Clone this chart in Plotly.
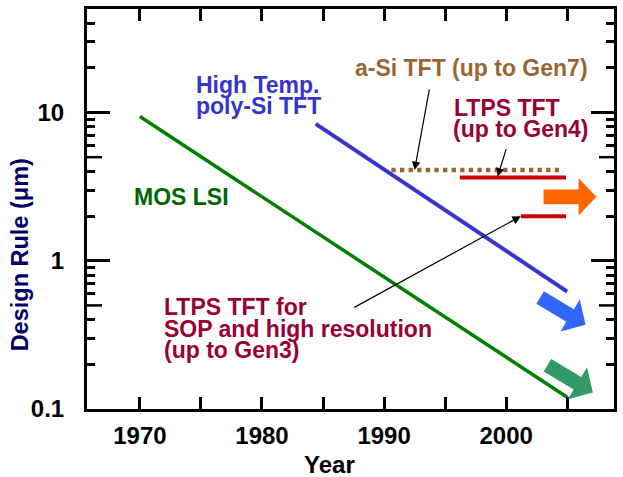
import numpy as np
import plotly.graph_objects as go

# ---------------- data ----------------
mos_years = [1970, 2005]
mos_rule = [9.4, 0.12]

htps_years = [1984.4, 2005]
htps_rule = [8.4, 0.62]

asi_years = [1990.6, 2004.7]
asi_rule = [4.1, 4.1]

ltps4_years = [1996.2, 2004.9]
ltps4_rule = [3.65, 3.65]

ltps3_years = [2001.2, 2004.9]
ltps3_rule = [2.0, 2.0]

x_tick_vals = [1970, 1975, 1980, 1985, 1990, 1995, 2000, 2005]
x_tick_text = ["1970", "", "1980", "", "1990", "", "2000", ""]
y_tick_vals = [0.1, 1, 10]
y_tick_text = ["0.1", "1", "10"]
y_minor_vals = [0.2, 0.3, 0.4, 0.6, 0.7, 0.8, 0.9,
                2, 3, 4, 6, 7, 8, 9, 20, 30, 40]
y_mid_vals = [0.5, 5]

# trend arrows (tip year, tip value, direction in degrees, colour)
arrow_tip_years = [2007.4, 2006.5, 2007.1]
arrow_tip_rules = [2.70, 0.370, 0.129]
arrow_angles = [0, -31, -31]
arrow_colors = ["#FF6600", "#3366FF", "#339966"]

# pointer arrows (head year, head value, tail offset px)
pointer_years = [1992.5, 1999.3, 2001.2]
pointer_rules = [4.1, 3.7, 2.0]
pointer_ax = [15, 9, -168]
pointer_ay = [-82, -29, 92]

# ---------------- layout geometry ----------------
W_FIG, H_FIG = 623, 477
L, T, W, H = 87, 9, 530, 400
FONT = "Liberation Sans, Arial, sans-serif"

def paper(px, py):
    return (px - L) / W, 1 - (py - T) / H

fig = go.Figure()

fig.add_trace(go.Scatter(x=mos_years, y=mos_rule, mode="lines",
                         line=dict(color="#008000", width=3.5)))
fig.add_trace(go.Scatter(x=htps_years, y=htps_rule, mode="lines",
                         line=dict(color="#3535CC", width=4)))
fig.add_trace(go.Scatter(x=asi_years, y=asi_rule, mode="lines",
                         line=dict(color="#996633", width=4.3, dash="4.3px,4.3px")))
fig.add_trace(go.Scatter(x=ltps4_years, y=ltps4_rule, mode="lines",
                         line=dict(color="#CC0000", width=4)))
fig.add_trace(go.Scatter(x=ltps3_years, y=ltps3_rule, mode="lines",
                         line=dict(color="#CC0000", width=4)))

# block arrows
template = np.array([(-53, -7.3), (-18, -7.3), (-18, -18.7), (0, 0),
                     (-18, 18.7), (-18, 7.3), (-53, 7.3)])
shapes = []
for yr, val, ang, col in zip(arrow_tip_years, arrow_tip_rules, arrow_angles, arrow_colors):
    t = np.radians(ang)
    rot = np.array([[np.cos(t), -np.sin(t)], [np.sin(t), np.cos(t)]])
    pts = template @ rot.T
    path = "M" + " L".join(f"{p[0]:.2f},{p[1]:.2f}" for p in pts) + " Z"
    shapes.append(dict(type="path", xref="x", yref="y", xsizemode="pixel",
                       ysizemode="pixel", xanchor=yr, yanchor=val, path=path,
                       fillcolor=col, line=dict(width=0), layer="above"))

# medium ticks at 0.5 and 5 on both sides
for v in y_mid_vals:
    shapes.append(dict(type="line", xref="paper", yref="y", xsizemode="pixel",
                       xanchor=0, x0=0, x1=15, y0=v, y1=v,
                       line=dict(color="black", width=2.5)))
    shapes.append(dict(type="line", xref="paper", yref="y", xsizemode="pixel",
                       xanchor=1, x0=-15, x1=0, y0=v, y1=v,
                       line=dict(color="black", width=2.5)))

annotations = []
for yr, val, ax, ay in zip(pointer_years, pointer_rules, pointer_ax, pointer_ay):
    annotations.append(dict(x=yr, y=np.log10(val), xref="x", yref="y", text="",
                            showarrow=True, ax=ax, ay=ay, arrowhead=2,
                            arrowsize=1.4, arrowwidth=1.2, arrowcolor="black",
                            standoff=0))

labels = [
    ("High Temp.", 196.7, 92.7, "#3535CC"),
    ("poly-Si TFT", 196.7, 114, "#3535CC"),
    ("MOS LSI", 135, 205, "#006600"),
    ("a-Si TFT (up to Gen7)", 356.7, 76, "#996633"),
    ("LTPS TFT", 456.7, 116, "#990033"),
    ("(up to Gen4)", 455.3, 137, "#990033"),
    ("LTPS TFT for", 165, 315, "#990033"),
    ("SOP and high resolution", 165, 337, "#990033"),
    ("(up to Gen3)", 165, 358, "#990033"),
]
FS = 23
for txt, px, base, col in labels:
    xp, yp = paper(px - 2.5, base - 0.3465 * FS)
    annotations.append(dict(x=xp, y=yp, xref="paper", yref="paper", text=txt,
                            showarrow=False, xanchor="left", yanchor="middle",
                            font=dict(family=FONT, size=FS, color=col, weight="bold")))

# axis titles
xp, yp = paper(331, 473.3 - 0.3465 * 24)
annotations.append(dict(x=xp, y=yp, xref="paper", yref="paper", text="Year",
                        showarrow=False, xanchor="center", yanchor="middle",
                        font=dict(family=FONT, size=24, color="black", weight="bold")))
xp, yp = paper(28.3 - 0.3465 * 24, 255)
annotations.append(dict(x=xp, y=yp, xref="paper", yref="paper",
                        text="Design Rule (\u03bcm)", textangle=-90,
                        showarrow=False, xanchor="center", yanchor="middle",
                        font=dict(family=FONT, size=23.5, color="#000066", weight="bold")))

tickfont = dict(family=FONT, size=24, color="black", weight="bold")
fig.update_layout(
    width=W_FIG, height=H_FIG,
    margin=dict(l=L, r=W_FIG - L - W, t=T, b=H_FIG - T - H),
    paper_bgcolor="white", plot_bgcolor="white",
    showlegend=False,
    xaxis=dict(range=[1965.67, 2008.83], tickvals=x_tick_vals, ticktext=x_tick_text,
               ticks="inside", ticklen=12, tickwidth=2.5, tickcolor="black",
               showline=True, linewidth=3, linecolor="black", mirror="ticks",
               showgrid=False, zeroline=False, tickfont=tickfont,
               ticklabelstandoff=3),
    yaxis=dict(type="log", range=[-1, np.log10(50)], tickvals=y_tick_vals,
               ticktext=y_tick_text, ticks="inside", ticklen=23, tickwidth=2.5,
               tickcolor="black", showline=True, linewidth=3, linecolor="black",
               mirror="ticks", showgrid=False, zeroline=False, tickfont=tickfont,
               ticklabelstandoff=15,
               minor=dict(tickvals=y_minor_vals, ticks="inside", ticklen=8,
                          tickwidth=2.5, tickcolor="black", showgrid=False)),
    shapes=shapes,
    annotations=annotations,
)

fig.write_html("out.html", config={"displayModeBar": False},
               post_script="document.body.style.margin='0';document.body.style.padding='0';")
